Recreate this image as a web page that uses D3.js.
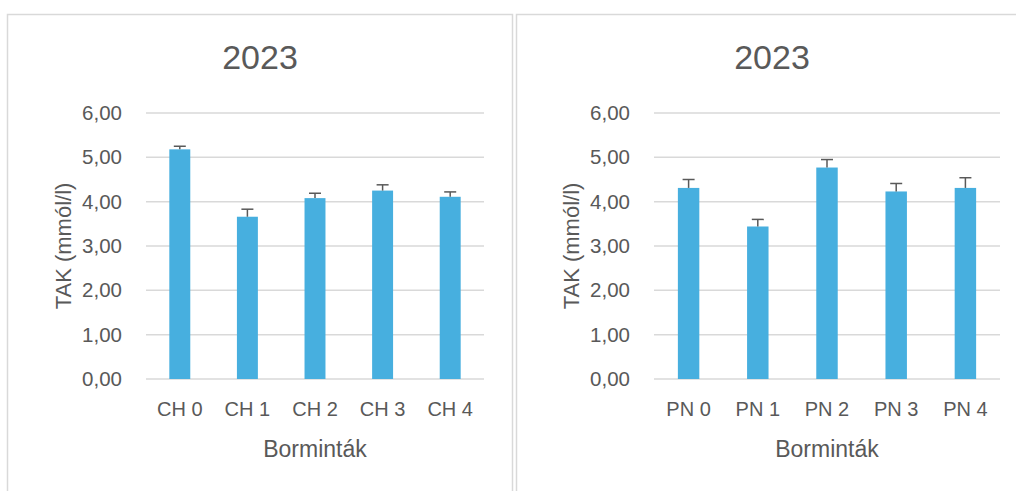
<!DOCTYPE html>
<html><head><meta charset="utf-8">
<script src="https://cdn.jsdelivr.net/npm/d3@7"></script>
<style>body{margin:0;background:#fff}svg{display:block}text{font-family:"Liberation Sans",Arial,sans-serif;fill:#595959}</style>
</head><body><svg id="c" width="1016" height="491"></svg>
<script>
const title = "2023";
const yTicks = [0, 1, 2, 3, 4, 5, 6];
const yLabel = "TAK (mmól/l)";
const xLabel = "Borminták";
const chCategories = ["CH 0", "CH 1", "CH 2", "CH 3", "CH 4"];
const chValues = [5.18, 3.66, 4.08, 4.25, 4.11];
const chErrors = [0.07, 0.17, 0.11, 0.13, 0.11];
const pnCategories = ["PN 0", "PN 1", "PN 2", "PN 3", "PN 4"];
const pnValues = [4.31, 3.44, 4.77, 4.23, 4.31];
const pnErrors = [0.19, 0.16, 0.18, 0.18, 0.23];

const svg = d3.select("#c");
const fmt = v => d3.format(".2f")(v).replace(".", ",");

function panel(px, pw, titleX, plotL, plotR, cats, vals, errs) {
  const g = svg.append("g");
  g.append("rect").attr("x", px + 0.5).attr("y", 14.5).attr("width", pw).attr("height", 500)
    .attr("fill", "#fff").attr("stroke", "#d9d9d9").attr("stroke-width", 1.5);
  const y = d3.scaleLinear().domain([0, 6]).range([379, 113]);
  const x = d3.scaleBand().domain(cats).range([plotL, plotR]).paddingInner(0.69).paddingOuter(0.345);
  g.selectAll(".grid").data(yTicks).join("line")
    .attr("x1", plotL).attr("x2", plotR)
    .attr("y1", d => y(d)).attr("y2", d => y(d))
    .attr("stroke", "#d9d9d9").attr("stroke-width", 1.5);
  const ya = g.append("g").attr("transform", `translate(${plotL},0)`)
    .call(d3.axisLeft(y).tickValues(yTicks).tickFormat(fmt).tickSize(0).tickPadding(24));
  ya.select(".domain").remove();
  ya.selectAll("text").style("font-size", "20.5px").attr("fill", "#595959");
  const idx = d3.range(cats.length);
  g.selectAll(".bar").data(idx).join("rect")
    .attr("x", i => x(cats[i])).attr("width", x.bandwidth())
    .attr("y", i => y(vals[i])).attr("height", i => y(0) - y(vals[i]))
    .attr("fill", "#47AFDF");
  g.selectAll(".err").data(idx).join("line")
    .attr("x1", i => x(cats[i]) + x.bandwidth() / 2).attr("x2", i => x(cats[i]) + x.bandwidth() / 2)
    .attr("y1", i => y(vals[i])).attr("y2", i => y(vals[i] + errs[i]))
    .attr("stroke", "#595959").attr("stroke-width", 1.5);
  g.selectAll(".cap").data(idx).join("line")
    .attr("x1", i => x(cats[i]) + x.bandwidth() / 2 - 6).attr("x2", i => x(cats[i]) + x.bandwidth() / 2 + 6)
    .attr("y1", i => y(vals[i] + errs[i])).attr("y2", i => y(vals[i] + errs[i]))
    .attr("stroke", "#595959").attr("stroke-width", 1.5);
  const xa = g.append("g").attr("transform", `translate(0,${y(0)})`)
    .call(d3.axisBottom(x).tickSize(0).tickPadding(23));
  xa.select(".domain").remove();
  xa.selectAll("text").style("font-size", "20px").attr("fill", "#595959");
  const cx = (plotL + plotR) / 2;
  g.append("text").attr("x", titleX).attr("y", 69).attr("text-anchor", "middle")
    .style("font-size", "34px").text(title);
  g.append("text").attr("x", cx).attr("y", 457).attr("text-anchor", "middle")
    .style("font-size", "23px").text(xLabel);
  g.append("text").attr("transform", `translate(${plotL - 83},246) rotate(-90)`)
    .attr("text-anchor", "middle").attr("dy", "0.35em")
    .style("font-size", "22px").text(yLabel);
}
panel(7, 505, 260, 146, 484, chCategories, chValues, chErrors);
panel(516, 520, 772, 654, 1000, pnCategories, pnValues, pnErrors);
</script></body></html>
